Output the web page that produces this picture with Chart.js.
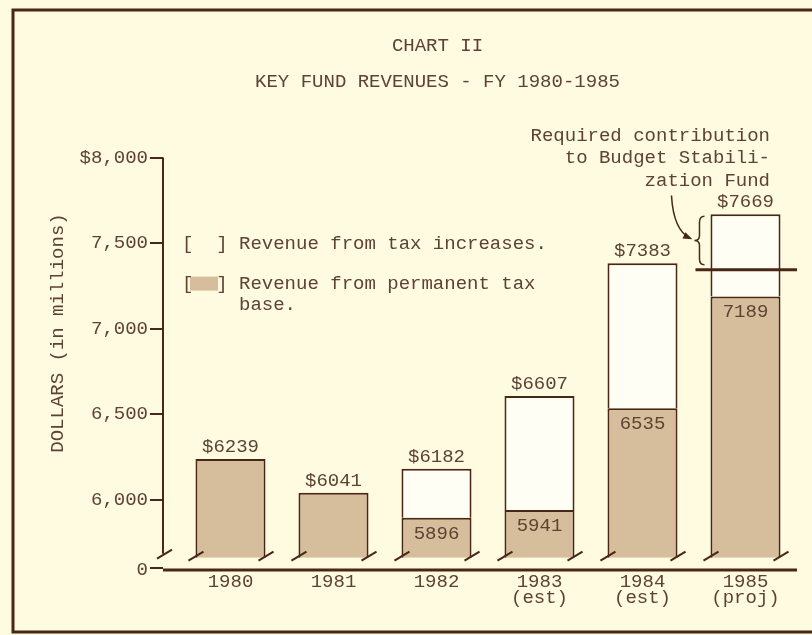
<!DOCTYPE html>
<html>
<head>
<meta charset="utf-8">
<script src="https://cdn.jsdelivr.net/npm/chart.js@4.4.1/dist/chart.umd.min.js"></script>
<style>
  html, body { margin: 0; padding: 0; background: #fefbe1; }
  #wrap { width: 812px; height: 635px; }
</style>
</head>
<body>
<div id="wrap"><canvas id="chart" width="812" height="635"></canvas></div>
<script>
// chart values
const years = [['1980'], ['1981'], ['1982'], ['1983', '(est)'], ['1984', '(est)'], ['1985', '(proj)']];
const permanentBase = [6239, 6041, 5896, 5941, 6535, 7189];
const totalRevenue = [6239, 6041, 6182, 6607, 7383, 7669];
const tickValues = [5590, 6000, 6500, 7000, 7500, 8000];
const tickLabels = ['0', '6,000', '6,500', '7,000', '7,500', '$8,000'];
const axisBreak = 5662;          // bars are cut off here (broken axis)
const stabilizationLine = 7345;  // required contribution line on 1985
const noteLines = ['Required contribution', 'to Budget Stabili-', 'zation Fund'];

const INK = '#4a2616';
const TEXT = '#5e4232';
const TAN = '#d6bd9b';
const FONT = '"Liberation Mono", "Courier New", monospace';

const paper = {
    id: 'paper',
    beforeDraw(chart) {
        const {ctx, width} = chart;
        ctx.save();
        ctx.fillStyle = '#fefbe1';
        ctx.fillRect(0, 0, width, chart.height);
        ctx.strokeStyle = INK;
        ctx.lineWidth = 3;
        ctx.beginPath();
        ctx.moveTo(width, 10);
        ctx.lineTo(13, 10);
        ctx.lineTo(13, 632);
        ctx.lineTo(width, 632);
        ctx.stroke();
        ctx.restore();
    }
};

function slash(ctx, x, y) {
    ctx.beginPath();
    ctx.moveTo(x - 7, y + 3);
    ctx.lineTo(x + 8, y - 6);
    ctx.stroke();
}

const brokenAxes = {
    id: 'brokenAxes',
    afterDatasetsDraw(chart) {
        const {ctx, chartArea, scales: {y}} = chart;
        const ax = chartArea.left - 16;
        const breakY = y.getPixelForValue(axisBreak);
        ctx.save();
        ctx.strokeStyle = INK;
        ctx.lineWidth = 2;
        // y axis line, stops at the break
        ctx.beginPath();
        ctx.moveTo(ax, y.getPixelForValue(8000));
        ctx.lineTo(ax, breakY - 4);
        ctx.stroke();
        // tick dashes
        tickValues.forEach(v => {
            const py = Math.round(y.getPixelForValue(v)) - (v === tickValues[0] ? 2 : 0);
            ctx.beginPath();
            ctx.moveTo(ax - 13, py);
            ctx.lineTo(ax, py);
            ctx.stroke();
        });
        slash(ctx, ax + 1, breakY - 2);
        // bottom axis line
        ctx.lineWidth = 3;
        ctx.beginPath();
        ctx.moveTo(ax, chartArea.bottom);
        ctx.lineTo(chartArea.right, chartArea.bottom);
        ctx.stroke();
        // break marks at the foot of each bar
        ctx.lineWidth = 2;
        chart.getDatasetMeta(0).data.forEach(bar => {
            slash(ctx, bar.x - bar.width / 2, bar.base);
            slash(ctx, bar.x + bar.width / 2, bar.base);
        });
        ctx.restore();
    }
};

const barLabels = {
    id: 'barLabels',
    afterDatasetsDraw(chart) {
        const {ctx} = chart;
        const baseBars = chart.getDatasetMeta(0).data;
        ctx.save();
        ctx.font = '19px ' + FONT;
        ctx.fillStyle = TEXT;
        ctx.textAlign = 'center';
        totalRevenue.forEach((total, i) => {
            const bar = baseBars[i];
            const topY = chart.scales.y.getPixelForValue(total);
            ctx.textBaseline = 'middle';
            ctx.fillText('$' + total, bar.x, topY - 12);
            if (total > permanentBase[i]) {
                ctx.fillText(String(permanentBase[i]), bar.x, bar.y + 16);
            }
        });
        ctx.restore();
    }
};

const notes = {
    id: 'notes',
    afterDraw(chart) {
        const {ctx, chartArea, scales: {y}} = chart;
        const last = chart.getDatasetMeta(1).data[5];
        const left = last.x - last.width / 2;
        const topY = last.y;
        const lineY = y.getPixelForValue(stabilizationLine);
        ctx.save();
        ctx.strokeStyle = INK;
        ctx.fillStyle = INK;
        // required contribution line
        ctx.lineWidth = 3;
        ctx.beginPath();
        ctx.moveTo(left - 15, lineY);
        ctx.lineTo(chartArea.right, lineY);
        ctx.stroke();
        // brace
        ctx.lineWidth = 1.5;
        const bx = left - 11, t = topY + 2, b = lineY - 5, m = (t + b) / 2, w = 5;
        ctx.beginPath();
        ctx.moveTo(bx + w, t);
        ctx.quadraticCurveTo(bx, t, bx, t + 6);
        ctx.lineTo(bx, m - 5);
        ctx.quadraticCurveTo(bx, m, bx - w, m);
        ctx.quadraticCurveTo(bx, m, bx, m + 5);
        ctx.lineTo(bx, b - 6);
        ctx.quadraticCurveTo(bx, b, bx + w, b);
        ctx.stroke();
        // curved arrow
        const tx = bx - 9, ty = m - 2;
        const sx = tx - 19, sy = ty - 43, cx = tx - 17, cy = ty - 8;
        ctx.beginPath();
        ctx.moveTo(sx, sy);
        ctx.quadraticCurveTo(cx, cy, tx, ty);
        ctx.stroke();
        const ang = Math.atan2(ty - cy, tx - cx);
        ctx.beginPath();
        ctx.moveTo(tx + 2 * Math.cos(ang), ty + 2 * Math.sin(ang));
        ctx.lineTo(tx - 8 * Math.cos(ang - 0.45), ty - 8 * Math.sin(ang - 0.45));
        ctx.lineTo(tx - 8 * Math.cos(ang + 0.45), ty - 8 * Math.sin(ang + 0.45));
        ctx.closePath();
        ctx.fill();
        // note text
        ctx.font = '19px ' + FONT;
        ctx.fillStyle = TEXT;
        ctx.textAlign = 'right';
        ctx.textBaseline = 'middle';
        noteLines.forEach((line, i) => ctx.fillText(line, chartArea.right - 27, chartArea.top - 22 + i * 22.5));

        // legend
        ctx.textAlign = 'left';
        const lx = chartArea.left + 3;
        const sets = chart.data.datasets;
        ctx.fillText('[  ] ' + sets[1].label, lx, chartArea.top + 86);
        ctx.fillStyle = TAN;
        ctx.fillRect(lx + 8, chartArea.top + 119, 28, 14);
        ctx.fillStyle = TEXT;
        const words = sets[0].label.split(' ');
        ctx.fillText('[  ] ' + words.slice(0, -1).join(' '), lx, chartArea.top + 126);
        ctx.fillText('     ' + words[words.length - 1], lx, chartArea.top + 147);

        // y axis title
        ctx.translate(58, 333);
        ctx.rotate(-Math.PI / 2);
        ctx.textAlign = 'center';
        ctx.fillText('DOLLARS (in millions)', 0, 0);
        ctx.restore();
    }
};

new Chart(document.getElementById('chart'), {
    type: 'bar',
    data: {
        labels: years,
        datasets: [{
            label: 'Revenue from permanent tax base.',
            data: permanentBase.map(v => [axisBreak, v]),
            backgroundColor: TAN,
            borderColor: INK,
            borderWidth: {top: 2, left: 2, right: 2, bottom: 0},
            borderSkipped: false
        }, {
            label: 'Revenue from tax increases.',
            data: totalRevenue.map((v, i) => v > permanentBase[i] ? [permanentBase[i], v] : null),
            backgroundColor: '#fffef5',
            borderColor: INK,
            borderWidth: {top: 2, left: 2, right: 2, bottom: 0},
            borderSkipped: false
        }]
    },
    options: {
        responsive: false,
        animation: false,
        layout: {padding: {left: 78, right: 15, top: 0, bottom: 0}},
        categoryPercentage: 1,
        barPercentage: 0.68,
        scales: {
            x: {
                stacked: true,
                grid: {display: false, drawTicks: false},
                border: {display: false},
                afterFit: s => { s.height = 65; },
                ticks: {
                    color: TEXT,
                    padding: 4,
                    maxRotation: 0,
                    font: {family: FONT, size: 19, lineHeight: 0.85}
                }
            },
            y: {
                stacked: false,
                min: tickValues[0],
                max: 8000,
                grid: {display: false, drawTicks: false},
                border: {display: false},
                afterFit: s => { s.width = 101; },
                afterBuildTicks: s => { s.ticks = tickValues.map(v => ({value: v})); },
                ticks: {
                    color: TEXT,
                    padding: 31,
                    autoSkip: false,
                    font: {family: FONT, size: 19},
                    callback: (v, i) => tickLabels[i]
                }
            }
        },
        plugins: {
            legend: {display: false},
            tooltip: {enabled: false},
            title: {
                display: true,
                text: 'CHART II',
                color: TEXT,
                font: {family: FONT, size: 19, weight: 'normal', lineHeight: 1.2},
                padding: {top: 35, bottom: 0}
            },
            subtitle: {
                display: true,
                text: 'KEY FUND REVENUES - FY 1980-1985',
                color: TEXT,
                font: {family: FONT, size: 19, weight: 'normal', lineHeight: 1.2},
                padding: {top: 13, bottom: 64}
            }
        }
    },
    plugins: [paper, brokenAxes, barLabels, notes]
});
</script>
</body>
</html>
